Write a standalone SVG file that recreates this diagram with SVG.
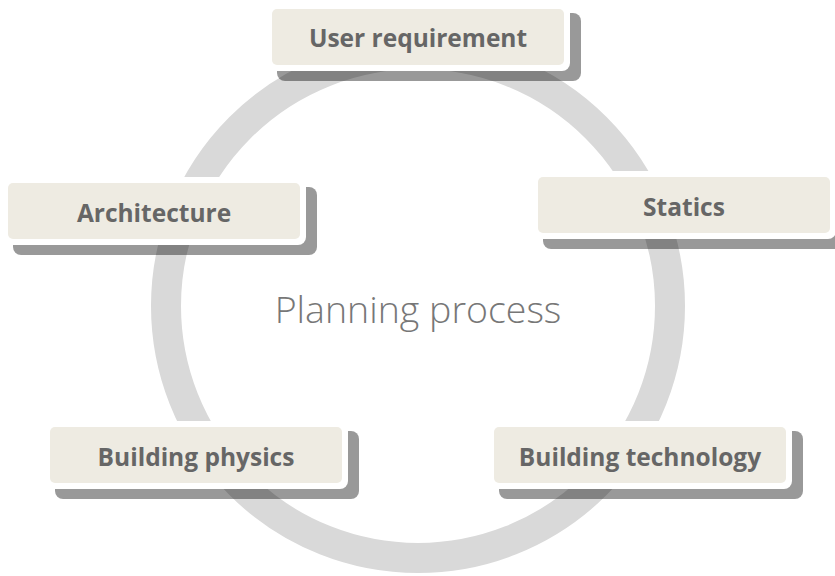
<svg xmlns="http://www.w3.org/2000/svg" width="835" height="576" viewBox="0 0 835 576">
<style>
.shadow{fill:#000;fill-opacity:0.4}
.frame{fill:#fff}
.box{fill:#eeebe2}
.label{font-family:"Open Sans","Liberation Sans",sans-serif;font-weight:700;font-size:24.5px;fill:#666;text-anchor:middle}
.title{font-family:"Open Sans","Liberation Sans",sans-serif;font-weight:300;font-size:37.5px;fill:#777;text-anchor:middle}
</style>
<rect width="835" height="576" fill="#fff"/>
<g id="connectors">
<circle cx="418" cy="306" r="252" fill="none" stroke="#d9d9d9" stroke-width="30"/>
</g>
<g id="center">
<text class="title" x="418" y="323">Planning process</text>
</g>
<g id="user-requirement">
<rect class="shadow" x="277" y="13" width="304" height="68" rx="8"/>
<rect class="frame" x="266" y="3" width="304" height="68" rx="8"/>
<rect class="box" x="272" y="9" width="292" height="56" rx="5"/>
<text class="label" x="418" y="47">User requirement</text>
</g>
<g id="architecture">
<rect class="shadow" x="13" y="187" width="304" height="68" rx="8"/>
<rect class="frame" x="2" y="177" width="304" height="68" rx="8"/>
<rect class="box" x="8" y="183" width="292" height="56" rx="5"/>
<text class="label" x="154" y="222">Architecture</text>
</g>
<g id="statics">
<rect class="shadow" x="543" y="181" width="304" height="68" rx="8"/>
<rect class="frame" x="532" y="171" width="304" height="68" rx="8"/>
<rect class="box" x="538" y="177" width="292" height="56" rx="5"/>
<text class="label" x="684" y="216">Statics</text>
</g>
<g id="building-physics">
<rect class="shadow" x="55" y="431" width="304" height="68" rx="8"/>
<rect class="frame" x="44" y="421" width="304" height="68" rx="8"/>
<rect class="box" x="50" y="427" width="292" height="56" rx="5"/>
<text class="label" x="196" y="466">Building physics</text>
</g>
<g id="building-technology">
<rect class="shadow" x="499" y="431" width="304" height="68" rx="8"/>
<rect class="frame" x="488" y="421" width="304" height="68" rx="8"/>
<rect class="box" x="494" y="427" width="292" height="56" rx="5"/>
<text class="label" x="640" y="466">Building technology</text>
</g>
</svg>
